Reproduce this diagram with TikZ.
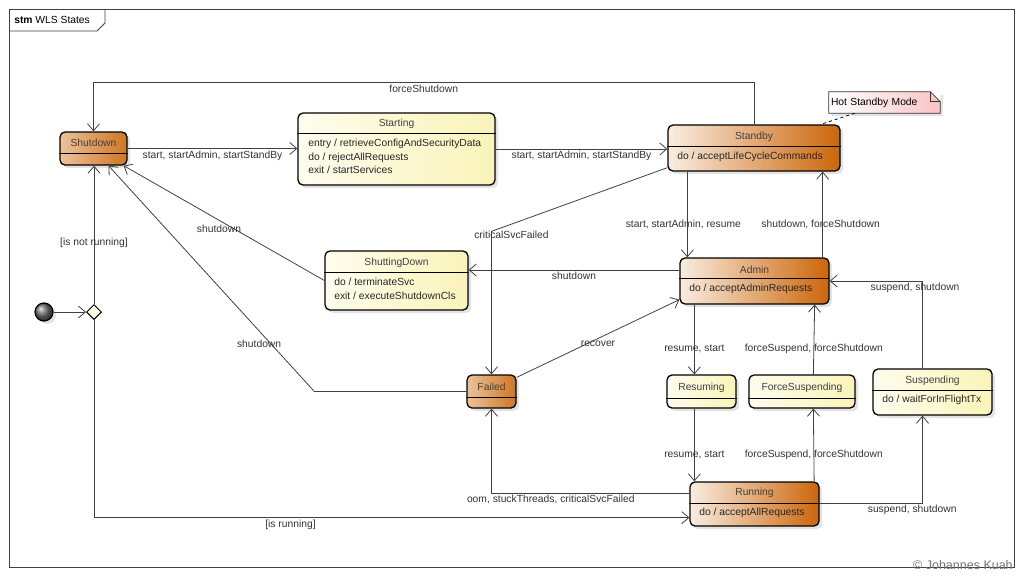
\documentclass[tikz,border=0pt]{standalone}
\usepackage{fontspec}
\setmainfont{Liberation Sans}
\usetikzlibrary{arrows.meta,positioning,calc,shapes.geometric,shadows}
\definecolor{stmorange}{RGB}{204,102,10}
\definecolor{stmyellow}{RGB}{250,244,185}
\definecolor{stmpink}{RGB}{248,196,196}
\definecolor{stmline}{RGB}{64,64,64}

\begin{document}
\begin{tikzpicture}[x=1pt, y=-1pt, >={Straight Barb[length=7pt,width=12pt]}, semithick, font=\fontsize{10.3}{13.5}\selectfont]
\tikzstyle{box}=[draw=black, line width=1.3pt, rounded corners=5pt, inner sep=0pt, drop shadow={shadow xshift=3pt, shadow yshift=-3pt, fill=black!18, opacity=0.6}]
\tikzstyle{hot}=[box, left color=stmorange!12, right color=stmorange]
\tikzstyle{warm}=[box, left color=stmorange!40, right color=stmorange!90]
\tikzstyle{calm}=[box, left color=stmyellow!25, right color=stmyellow]
\tikzstyle{divline}=[line width=0.8pt]
\tikzstyle{ttl}=[inner sep=0pt, text=black!75]
\tikzstyle{act}=[inner sep=0pt, anchor=west, align=left, text=black!85]
\tikzstyle{tr}=[->, draw=stmline, line width=0.8pt]
\tikzstyle{lbl}=[inner sep=2pt, text=black!80]
\useasboundingbox (0,0) rectangle (1024,576);

% frame
\draw[stmline, line width=0.8pt] (9,9) rectangle (1014,567);
\draw[stmline, line width=0.8pt] (9,31) -- (97,31) -- (105,23) -- (105,9);
\node[anchor=west, inner sep=0pt] (t) at (14,20) {\textbf{stm} WLS States};

% states
\node[warm, minimum width=67pt, minimum height=33pt] (1) at (93.5,148.5) {};
\draw[divline] (1.west |- 0,153) -- (1.east |- 0,153);
\node[ttl] (1a) at (93.5,143) {Shutdown};

\node[calm, minimum width=197pt, minimum height=72pt] (2) at (396.5,149) {};
\draw[divline] (2.west |- 0,133) -- (2.east |- 0,133);
\node[ttl] (2a) at (396.5,124) {Starting};
\node[act] (2b) at (308,156.5) {entry / retrieveConfigAndSecurityData\\do / rejectAllRequests\\exit / startServices};

\node[hot, minimum width=172pt, minimum height=46pt] (3) at (754,148) {};
\draw[divline] (3.west |- 0,146) -- (3.east |- 0,146);
\node[ttl] (3a) at (754,137) {Standby};
\node[act] (3b) at (677,156.5) {do / acceptLifeCycleCommands};

\node[hot, minimum width=149pt, minimum height=46pt] (4) at (754.5,281) {};
\draw[divline] (4.west |- 0,278) -- (4.east |- 0,278);
\node[ttl] (4a) at (754.5,269.5) {Admin};
\node[act] (4b) at (689,289) {do / acceptAdminRequests};

\node[calm, minimum width=143pt, minimum height=59pt] (5) at (396.5,280.5) {};
\draw[divline] (5.west |- 0,272) -- (5.east |- 0,272);
\node[ttl] (5a) at (396.5,263) {ShuttingDown};
\node[act] (5b) at (334,289) {do / terminateSvc\\exit / executeShutdownCls};

\node[warm, minimum width=49pt, minimum height=33pt] (6) at (491.5,391.5) {};
\draw[divline] (6.west |- 0,397) -- (6.east |- 0,397);
\node[ttl] (6a) at (491.5,387) {Failed};

\node[calm, minimum width=69pt, minimum height=33pt] (7) at (701.5,391.5) {};
\draw[divline] (7.west |- 0,398) -- (7.east |- 0,398);
\node[ttl] (7a) at (701.5,388) {Resuming};

\node[calm, minimum width=106pt, minimum height=33pt] (8) at (802,391.5) {};
\draw[divline] (8.west |- 0,398) -- (8.east |- 0,398);
\node[ttl] (8a) at (802,388) {ForceSuspending};

\node[calm, minimum width=119pt, minimum height=46pt] (9) at (932.5,392) {};
\draw[divline] (9.west |- 0,390) -- (9.east |- 0,390);
\node[ttl] (9a) at (932.5,381) {Suspending};
\node[act] (9b) at (882,400) {do / waitForInFlightTx};

\node[hot, minimum width=129pt, minimum height=44pt] (10) at (754.5,504) {};
\draw[divline] (10.west |- 0,503) -- (10.east |- 0,503);
\node[ttl] (10a) at (754.5,493) {Running};
\node[act] (10b) at (699,513) {do / acceptAllRequests};

% initial state and choice
\node[circle, draw=black, line width=1.2pt, ball color=black!55, minimum size=18pt, inner sep=0pt, drop shadow={shadow xshift=3pt, shadow yshift=-3pt, fill=black!18, opacity=0.6}] (0) at (44,312) {};
\node[diamond, draw=black, line width=1pt, fill=stmyellow!40, minimum size=15pt, inner sep=0pt] (11) at (94,312) {};

% note
\node[left color=white, right color=stmpink, minimum width=111pt, minimum height=21pt, text width=107pt, inner xsep=2pt, inner ysep=0pt, align=left, drop shadow={shadow xshift=3pt, shadow yshift=-3pt, fill=black!18, opacity=0.6}] (12) at (884.5,102.5) {Hot Standby Mode};
\fill[white] (12.north east) -- ++(-10,0) -- ++(10,10) -- cycle;
\draw[black!80, line width=0.8pt] (12.south west) -- (12.north west) -- ($(12.north east)+(-10,0)$) -- ($(12.north east)+(0,10)$) -- (12.south east) -- cycle;
\draw[black!80, line width=0.8pt] ($(12.north east)+(-10,0)$) -- ($(12.north east)+(-10,10)$) -- ($(12.north east)+(0,10)$);
\draw[dashed, line width=0.8pt] ($(12.south west)+(26,0)$) -- ($(3.north east)+(-20,0)$);

% transitions
\draw[tr] (0) -- (11);
\draw[tr] (11) -- (11 |- 1.south) node[lbl, pos=0.44] {[is not running]};
\draw[tr] (11) |- ($(10.south west)+(0,-9)$) node[lbl, pos=0.665, below] {[is running]};
\draw[tr] (3.north) -- ++(0,-42) -| node[lbl, pos=0.25, below] {forceShutdown} (1.north);
\draw[tr] (1.east) -- (1.east -| 2.west) node[lbl, midway, below] {start, startAdmin, startStandBy};
\draw[tr] (2.east) -- (2.east -| 3.west) node[lbl, midway, below] {start, startAdmin, startStandBy};
\draw[tr] (5.west) -- ($(1.south east)+(-4,0)$) node[lbl, midway, below, xshift=-5pt] {shutdown};
\draw[tr] (6.west) -- ++(-152,0) -- ($(1.south)+(15,0)$) node[lbl, pos=0.21, xshift=-12pt] {shutdown};
\draw[tr] ($(3.south west)+(0,-4)$) -- ($(6.north)+(0,-143)$) node[lbl, xshift=20pt, yshift=-3pt] {criticalSvcFailed} -- (6.north);
\draw[tr] ($(4.west)+(0,-11)$) -- ($(5.east)+(0,-10.5)$) node[lbl, midway, below] {shutdown};
\draw[tr] ($(3.south west)+(20,0)$) -- ($(4.north west)+(8,0)$) node[lbl, pos=0.61, xshift=-4pt] {start, startAdmin, resume};
\draw[tr] ($(4.north east)+(-7,0)$) -- ($(3.south east)+(-18,0)$) node[lbl, pos=0.39, xshift=-2pt] {shutdown, forceShutdown};
\draw[tr] ($(6.north east)+(0,3)$) -- ($(4.south west)+(0,-5)$) node[lbl, midway, below] {recover};
\draw[tr] ($(4.south west)+(15,0)$) -- ($(7.north west)+(28,0)$) node[lbl, pos=0.63] {resume, start};
\draw[tr] ($(8.north west)+(65,0)$) -- ($(4.south east)+(-15,0)$) node[lbl, pos=0.37] {forceSuspend, forceShutdown};
\draw[tr] ($(9.north)+(-10,0)$) |- (4.east) node[lbl, pos=0.54, below] {suspend, shutdown};
\draw[tr] ($(7.south west)+(28,0)$) -- ($(10.north west)+(5,0)$) node[lbl, pos=0.64] {resume, start};
\draw[tr] ($(10.north east)+(-5.5,0)$) -- ($(8.south west)+(65,0)$) node[lbl, pos=0.36] {forceSuspend, forceShutdown};
\draw[tr] ($(10.east)+(0,-1)$) -| ($(9.south)+(-10,0)$) node[lbl, pos=0.45, below] {suspend, shutdown};
\draw[tr] ($(10.west)+(0,-11)$) -| (6.south) node[lbl, pos=0.35, below] {oom, stuckThreads, criticalSvcFailed};

\node[anchor=east, text=black!55, inner sep=0pt, font=\fontsize{12.5}{14}\selectfont] (13) at (1013,565) {© Johannes Kuah};
\end{tikzpicture}
\end{document}
